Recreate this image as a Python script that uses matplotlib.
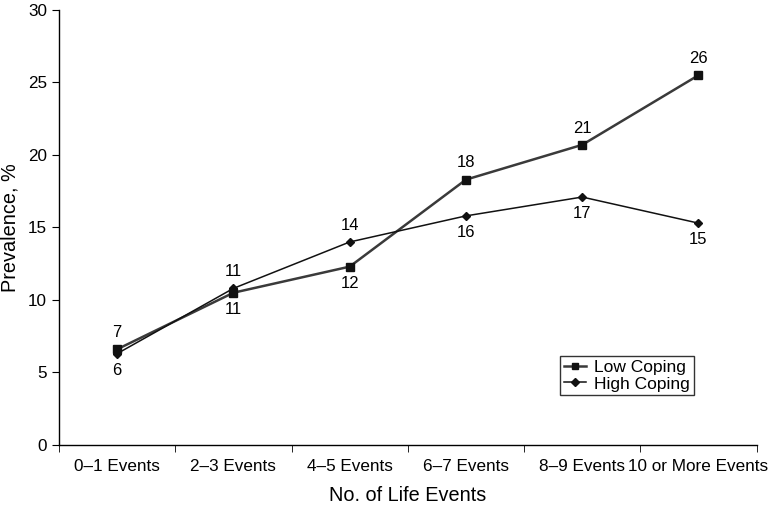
import matplotlib
matplotlib.use("Agg")
import matplotlib.pyplot as plt
import numpy as np

plt.rcParams['font.family'] = ['Liberation Sans', 'DejaVu Sans']

categories = ["0\u20131 Events", "2\u20133 Events", "4\u20135 Events", "6\u20137 Events", "8\u20139 Events", "10 or More Events"]
low_coping = [6.6, 10.5, 12.3, 18.3, 20.7, 25.5]
high_coping = [6.3, 10.8, 14.0, 15.8, 17.1, 15.3]
low_labels = ["7", "11", "12", "18", "21", "26"]
high_labels = ["6", "11", "14", "16", "17", "15"]

fig = plt.figure(figsize=(7.70, 5.07), dpi=100)
ax = fig.add_axes([0.0766, 0.1223, 0.906, 0.858])
x = np.arange(len(categories))

ax.plot(x, low_coping, color='#3a3a3a', lw=1.8, marker='s', ms=5.5, mfc='#111111', mec='#111111', label='Low Coping', zorder=3)
ax.plot(x, high_coping, color='#111111', lw=1.1, marker='D', ms=4.5, mfc='#111111', mec='#111111', label='High Coping', zorder=3)

for i in range(len(x)):
    lo, hi = low_coping[i], high_coping[i]
    lo_above = lo >= hi
    ax.annotate(low_labels[i], (x[i], lo), xytext=(0, 12 if lo_above else -12), textcoords='offset points',
                ha='center', va='center', fontsize=12)
    ax.annotate(high_labels[i], (x[i], hi), xytext=(0, -12 if lo_above else 12), textcoords='offset points',
                ha='center', va='center', fontsize=12)

ax.set_xlim(-0.5, len(categories) - 0.5)
ax.set_ylim(0, 30)
ax.set_yticks(np.arange(0, 31, 5))
ax.set_xticks(x)
ax.set_xticklabels(categories, fontsize=12.3)
ax.set_xticks(np.arange(-0.5, len(categories), 1), minor=True)
ax.tick_params(axis='x', which='major', length=0, pad=10)
ax.tick_params(axis='x', which='minor', length=5, direction='out')
ax.tick_params(axis='y', labelsize=12.3, length=5, direction='out')

for s in ['top', 'right']:
    ax.spines[s].set_visible(False)
for s in ['left', 'bottom']:
    ax.spines[s].set_linewidth(1.0)

ax.set_xlabel("No. of Life Events", fontsize=14.3, labelpad=9)
ax.set_ylabel("Prevalence, %", fontsize=14.3, labelpad=6)

leg = ax.legend(loc='upper left', bbox_to_anchor=(0.718, 0.2046), frameon=True, fancybox=False,
                edgecolor='black', fontsize=12.5, handlelength=1.3, borderpad=0.22, labelspacing=0.08,
                handletextpad=0.45, borderaxespad=0, markerscale=0.8)
leg.get_frame().set_linewidth(1.0)

fig.savefig("out.png", dpi=100)
